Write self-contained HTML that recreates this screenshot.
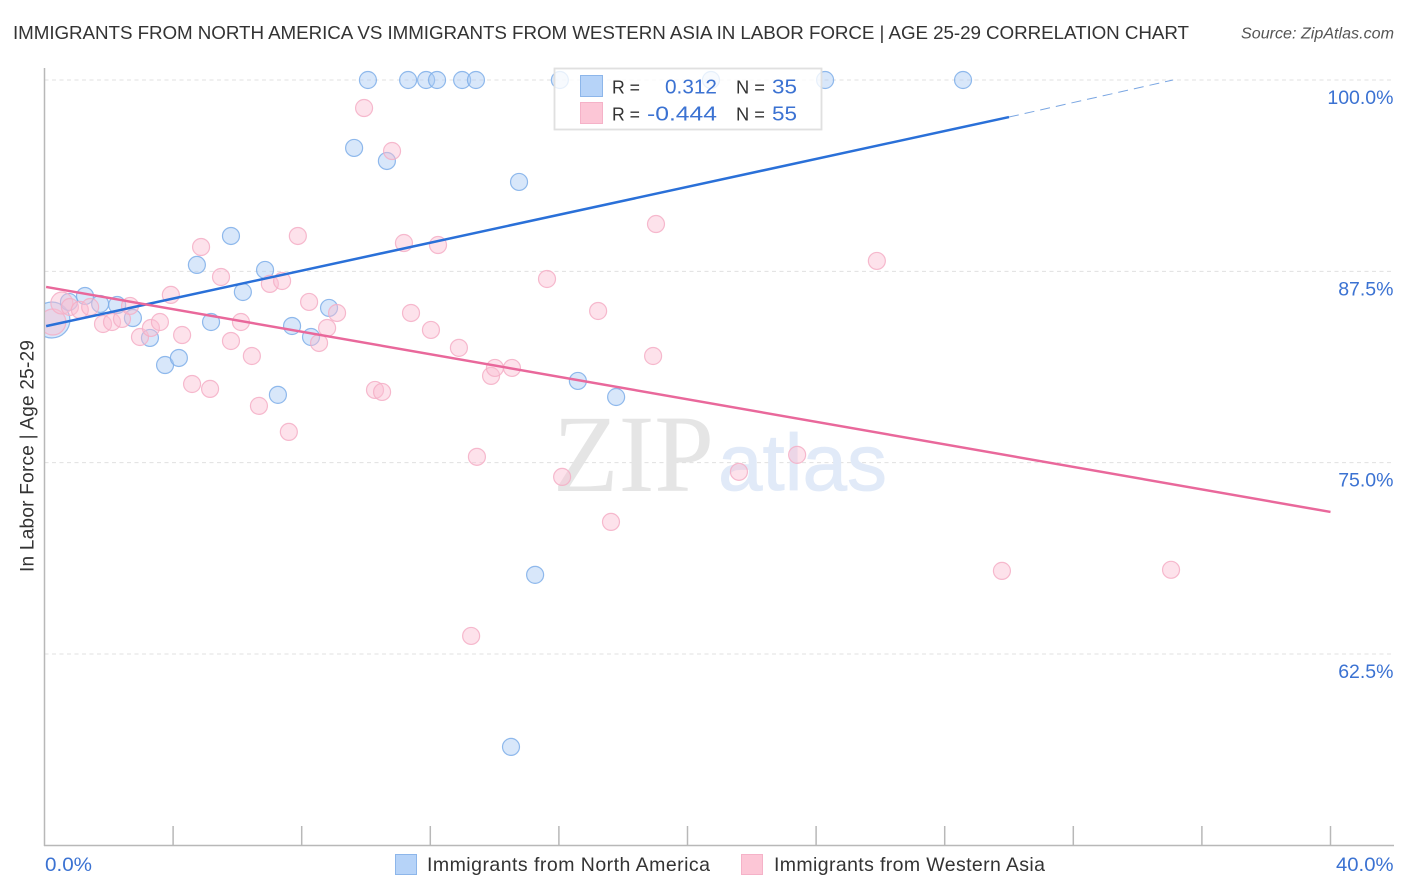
<!DOCTYPE html>
<html lang="en">
<head>
<meta charset="utf-8">
<title>Immigrants from North America vs Immigrants from Western Asia in Labor Force | Age 25-29 Correlation Chart</title>
<style>
  html, body { margin: 0; padding: 0; background: #fff; }
  body { width: 1406px; height: 892px; overflow: hidden; }
  svg { display: block; font-family: "Liberation Sans", sans-serif; }
</style>
</head>
<body>
<svg id="chart" width="1406" height="892" viewBox="0 0 1406 892">
  <defs>
    <clipPath id="plot-clip"><rect x="45" y="60" width="1349" height="785"/></clipPath>
  </defs>
  <rect width="1406" height="892" fill="#ffffff"/>
  <text x="13" y="39" font-size="18.8" fill="#333333" textLength="1176" lengthAdjust="spacing">IMMIGRANTS FROM NORTH AMERICA VS IMMIGRANTS FROM WESTERN ASIA IN LABOR FORCE | AGE 25-29 CORRELATION CHART</text>
  <text x="1241" y="38.5" font-size="15.5" font-style="italic" fill="#555555" textLength="153" lengthAdjust="spacingAndGlyphs">Source: ZipAtlas.com</text>

  <g id="grid"></g>

  <g>
    <text x="553" y="491" font-family="'Liberation Serif', serif" font-size="110" fill="#e5e5e5" textLength="161" lengthAdjust="spacingAndGlyphs">ZIP</text>
    <text x="718" y="490" font-size="80" fill="#e1eaf8" stroke="#e1eaf8" stroke-width="0.8" textLength="169" lengthAdjust="spacingAndGlyphs">atlas</text>
  </g>

  <g id="axes"></g>
  <g id="points" clip-path="url(#plot-clip)"></g>
  <g id="trends"></g>

  <g>
    <rect x="554.5" y="68.5" width="267" height="61" fill="#ffffff" fill-opacity="0.78" stroke="#e0e0e0" stroke-width="1.8"/>
    <rect x="580.5" y="75.5" width="22" height="21" fill="#b6d3f8" stroke="#8db6ea" stroke-width="1"/>
    <rect x="580.5" y="102.5" width="22" height="21" fill="#fcc6d6" stroke="#f5b2c8" stroke-width="1"/>
    <g font-size="18.5" fill="#333333">
      <text x="612" y="93.5" textLength="28" lengthAdjust="spacingAndGlyphs">R =</text>
      <text x="612" y="120.5" textLength="28" lengthAdjust="spacingAndGlyphs">R =</text>
      <text x="736" y="93.5" textLength="29" lengthAdjust="spacingAndGlyphs">N =</text>
      <text x="736" y="120.5" textLength="29" lengthAdjust="spacingAndGlyphs">N =</text>
    </g>
    <g font-size="20.5" fill="#3b72d2">
      <text x="665" y="93.5" textLength="52" lengthAdjust="spacingAndGlyphs">0.312</text>
      <text x="647" y="120.5" textLength="70" lengthAdjust="spacingAndGlyphs">-0.444</text>
      <text x="772" y="93.5" textLength="25" lengthAdjust="spacingAndGlyphs">35</text>
      <text x="772" y="120.5" textLength="25" lengthAdjust="spacingAndGlyphs">55</text>
    </g>
  </g>

  <text transform="translate(33.5 456) rotate(-90)" font-size="19" fill="#333333" text-anchor="middle" textLength="232" lengthAdjust="spacing">In Labor Force | Age 25-29</text>

  <g>
    <rect x="395.5" y="854.5" width="21" height="20" fill="#b6d3f8" stroke="#8db6ea" stroke-width="1"/>
    <text x="427" y="871" font-size="19.5" fill="#333333" textLength="283" lengthAdjust="spacing">Immigrants from North America</text>
    <rect x="741.5" y="854.5" width="21" height="20" fill="#fcc6d6" stroke="#f5b2c8" stroke-width="1"/>
    <text x="774" y="871" font-size="19.5" fill="#333333" textLength="271" lengthAdjust="spacing">Immigrants from Western Asia</text>
  </g>
</svg>

<script>
const blueX = [0.23,0.76,1.26,1.73,2.26,2.75,3.28,3.75,4.18,4.74,5.18,5.80,6.17,6.86,7.26,7.70,8.29,8.85,9.63,10.06,10.65,11.31,11.87,12.21,12.99,13.42,14.76,14.51,15.26,16.03,16.59,17.78,20.73,24.28,28.57];
const blueY = [84.32,85.50,85.89,85.37,85.30,84.45,83.15,81.38,81.84,87.92,84.19,89.81,86.15,87.59,79.43,83.93,83.21,85.11,95.56,100,94.71,100,100,100,100,100,93.34,56.43,67.67,100,80.34,79.29,100,100,100];
const pinkX = [0.26,0.54,0.79,1.10,1.42,1.82,2.10,2.41,2.66,2.97,3.31,3.59,3.93,4.28,4.59,5.15,5.49,5.80,6.11,6.45,6.67,7.60,7.01,7.39,8.23,8.79,8.54,9.10,4.87,7.88,9.94,10.81,11.18,12.24,10.28,10.50,11.40,12.02,12.89,13.89,14.01,14.54,13.45,13.27,15.63,16.10,17.22,17.62,18.93,19.02,21.60,23.41,25.89,29.78,35.04];
const pinkY = [84.19,85.43,85.17,84.98,85.17,84.06,84.19,84.39,85.24,83.21,83.80,84.19,85.96,83.34,80.14,79.82,87.13,82.95,84.19,81.97,78.71,77.01,86.68,86.87,85.50,83.80,82.82,84.78,89.09,89.81,98.17,95.36,89.35,89.22,79.75,79.62,84.78,83.67,82.50,80.67,81.19,81.19,75.38,63.68,87.00,74.07,84.91,71.13,81.97,90.59,74.40,75.51,88.18,67.93,68.00];
const xTicks = [0,4,8,12,16,20,24,28,32,36,40];
const yTicks = [100,87.5,75,62.5];
const yTickLabels = ["100.0%","87.5%","75.0%","62.5%"];
const xEndLabels = ["0.0%","40.0%"];
const blueTrendXs = [0.05,30.0,35.1];
const blueTrendYs = [83.92,97.58,100];
const pinkTrendXs = [0.05,40];
const pinkTrendYs = [86.48,71.78];

const NS = "http://www.w3.org/2000/svg";
const xScale = v => 44.5 + v * (1330.5 - 44.5) / 40;
const yScale = v => 80 + (100 - v) * (654 - 80) / 37.5;

function make(parent, tag, attrs, text) {
  const el = document.createElementNS(NS, tag);
  for (const k in attrs) el.setAttribute(k, attrs[k]);
  if (text !== undefined) el.textContent = text;
  parent.appendChild(el);
  return el;
}

const grid = document.getElementById("grid");
const axes = document.getElementById("axes");
const points = document.getElementById("points");
const trends = document.getElementById("trends");

yTicks.forEach((t, i) => {
  const line = make(grid, "line", {x1: 44.5, x2: 1394, y1: yScale(t), y2: yScale(t), stroke: "#e0e0e0", "stroke-width": 1, "stroke-dasharray": "4 3.5"});
  
  
  const label = make(axes, "text", {x: 1393.5, y: yScale(t) + 24, "text-anchor": "end", "font-size": 19.5, fill: "#3b72d2"}, yTickLabels[i]);
  
  
});

const yAxisLine = make(axes, "line", {x1: 44.5, x2: 44.5, y1: 68, y2: 846, stroke: "#b8b8b8", "stroke-width": 1.5});


const xAxisLine = make(axes, "line", {x1: 44, x2: 1394, y1: 845.5, y2: 845.5, stroke: "#b8b8b8", "stroke-width": 1.5});



xTicks.slice(1).forEach(t => {
  const tick = make(axes, "line", {x1: xScale(t), x2: xScale(t), y1: 826, y2: 845, stroke: "#b8b8b8", "stroke-width": 1.5});
  
  
});

const xLabelStart = make(axes, "text", {x: 45, y: 871, "font-size": 19.5, fill: "#3b72d2", textLength: 47, lengthAdjust: "spacingAndGlyphs"}, xEndLabels[0]);


const xLabelEnd = make(axes, "text", {x: 1336, y: 871, "font-size": 19.5, fill: "#3b72d2", textLength: 57.5, lengthAdjust: "spacingAndGlyphs"}, xEndLabels[1]);



function blueRadius(i) { return i === 0 ? 18 : 8.5; }
function pinkRadius(i) { return i === 0 ? 13 : (i === 1 ? 11 : 8.5); }

blueX.forEach((v, i) => {
  const c = make(points, "circle", {cx: xScale(v), cy: yScale(blueY[i]), r: blueRadius(i), fill: "#a9caf5", "fill-opacity": 0.45, stroke: "#7eaee9", "stroke-opacity": 0.85, "stroke-width": 1.2});
  
  
});

pinkX.forEach((v, i) => {
  const c = make(points, "circle", {cx: xScale(v), cy: yScale(pinkY[i]), r: pinkRadius(i), fill: "#fbbfd2", "fill-opacity": 0.45, stroke: "#f4aec5", "stroke-opacity": 0.85, "stroke-width": 1.2});
  
  
});

const blueSolid = make(trends, "line", {x1: xScale(blueTrendXs[0]), y1: yScale(blueTrendYs[0]), x2: xScale(blueTrendXs[1]), y2: yScale(blueTrendYs[1]), stroke: "#2a70d8", "stroke-width": 2.5});


const blueDash = make(trends, "line", {x1: xScale(blueTrendXs[1]), y1: yScale(blueTrendYs[1]), x2: xScale(blueTrendXs[2]), y2: yScale(blueTrendYs[2]), stroke: "#7aa6e2", "stroke-width": 1, "stroke-dasharray": "10 6"});


const pinkSolid = make(trends, "line", {x1: xScale(pinkTrendXs[0]), y1: yScale(pinkTrendYs[0]), x2: xScale(pinkTrendXs[1]), y2: yScale(pinkTrendYs[1]), stroke: "#e9689b", "stroke-width": 2.5});


</script>
</body>
</html>
